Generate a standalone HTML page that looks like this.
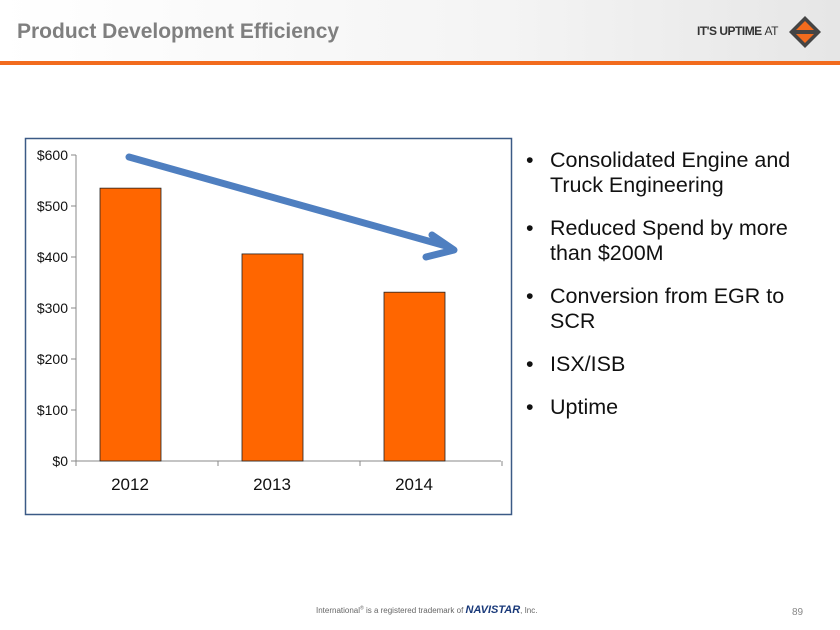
<!DOCTYPE html>
<html><head><meta charset="utf-8"><style>
body{margin:0;width:840px;height:630px;position:relative;background:#fff;font-family:"Liberation Sans",sans-serif;overflow:hidden}
.hdr{position:absolute;left:0;top:0;width:840px;height:61px;background:linear-gradient(90deg,#fff 0%,#f4f4f4 60%,#e6e6e6 100%)}
.title{position:absolute;left:17px;top:20px;font-size:21px;font-weight:bold;color:#7f7f7f}
.bar-line{position:absolute;left:0;top:61px;width:840px;height:4px;background:#f26b1d}
ul{position:absolute;left:522px;top:148px;width:300px;margin:0;padding:0;list-style:none;font-size:21.5px;color:#111;line-height:25px}
li{position:relative;padding-left:28px;margin-bottom:18px}
li:before{content:"•";position:absolute;left:4px}
</style></head><body>
<div class="hdr"></div>
<div class="title">Product Development Efficiency</div>
<div style="position:absolute;left:697px;top:24px;font-size:12px;font-weight:bold;color:#333;letter-spacing:-0.5px">IT'S UPTIME <span style="font-weight:normal">AT</span></div>
<svg style="position:absolute;left:788px;top:15px" width="34" height="34"><polygon points="17,1 33,17 17,33 1,17" fill="#444"/><polygon points="17,6 28,17 17,28 6,17" fill="#f26b1d"/><rect x="6" y="15" width="22" height="4" fill="#444"/></svg>
<div class="bar-line"></div>
<svg id="chart" style="position:absolute;left:0;top:0" width="840" height="630"></svg>
<ul>
<li>Consolidated Engine and Truck Engineering</li>
<li>Reduced Spend by more than $200M</li>
<li>Conversion from EGR to SCR</li>
<li>ISX/ISB</li>
<li>Uptime</li>
</ul>
<div style="position:absolute;left:316px;top:604px;font-size:8px;color:#666">International<sup style="font-size:5px">®</sup> is a registered trademark of <b style="color:#1a3a7a;font-style:italic;font-size:11px">NAVISTAR</b>, Inc.</div>
<div style="position:absolute;left:792px;top:607px;font-size:10px;color:#888">89</div>
<script>
const categories=["2012","2013","2014"];
const values=[535,406,331];
const ticks=[0,100,200,300,400,500,600];
const ns="http://www.w3.org/2000/svg";
const svg=document.getElementById('chart');
function y(v){return 461-v*0.51;}
function x(i){return 130+i*142;}
function mk(t,a,p){const e=document.createElementNS(ns,t);for(const k in a)e.setAttribute(k,a[k]);(p||svg).appendChild(e);return e;}
const box=mk('rect',{x:25.5,y:138.5,width:486,height:376,fill:'#fff',stroke:'#3b5a86','stroke-width':1.5});


const ya=mk('line',{x1:76,y1:y(600),x2:76,y2:y(0),stroke:'#888'});


const xa=mk('line',{x1:76,y1:y(0),x2:501,y2:y(0),stroke:'#888'});


ticks.forEach(t=>{
  mk('line',{x1:71,y1:y(t),x2:76,y2:y(t),stroke:'#888'});
  const tx=mk('text',{x:68,y:y(t)+5,'text-anchor':'end','font-size':14,fill:'#111'});
  tx.textContent='$'+t;
  
  
});
[0,1,2,3].forEach(i=>mk('line',{x1:76+i*142,y1:y(0),x2:76+i*142,y2:y(0)+5,stroke:'#888'}));
categories.forEach((c,i)=>{
  const b=mk('rect',{x:x(i)-30,y:y(values[i]),width:61,height:y(0)-y(values[i]),fill:'#ff6600',stroke:'#222','stroke-width':0.8});
  
  
  const t=mk('text',{x:x(i),y:490,'text-anchor':'middle','font-size':17,fill:'#111'});
  t.textContent=c;
  
  
});
const ar=mk('g',{});


mk('line',{x1:129,y1:157,x2:446,y2:246,stroke:'#4f7fc0','stroke-width':7,'stroke-linecap':'round'},ar);
mk('polyline',{points:'432,235 454,250 426,257',fill:'none',stroke:'#4f7fc0','stroke-width':7,'stroke-linecap':'round','stroke-linejoin':'round'},ar);
</script>
</body></html>
